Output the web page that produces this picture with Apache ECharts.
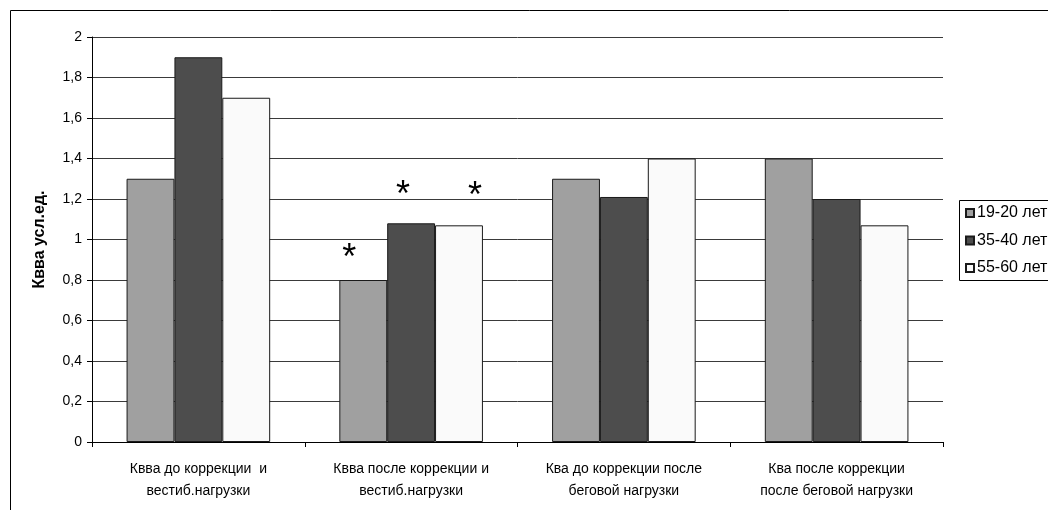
<!DOCTYPE html>
<html>
<head>
<meta charset="utf-8">
<script src="https://cdn.jsdelivr.net/npm/echarts@6/dist/echarts.min.js"></script>
<style>
  html, body { margin: 0; padding: 0; background: #fff; }
  #chart { width: 1048px; height: 510px; }
</style>
</head>
<body>
<div id="chart"></div>
<script>
// chart data
const categories = [
  'Квва до коррекции  и\nвестиб.нагрузки',
  'Квва после коррекции и\nвестиб.нагрузки',
  'Ква до коррекции после\nбеговой нагрузки',
  'Ква после коррекции\nпосле беговой нагрузки'
]
const seriesNames = ['19-20 лет', '35-40 лет', '55-60 лет']
const age19 = [1.3, 0.8, 1.3, 1.4]
const age35 = [1.9, 1.08, 1.21, 1.2]
const age55 = [1.7, 1.07, 1.4, 1.07]
// which bars carry the significance asterisk
const sig19 = [false, true, false, false]
const sig35 = [false, true, false, false]
const sig55 = [false, true, false, false]
const yTicks = [0, 0.2, 0.4, 0.6, 0.8, 1, 1.2, 1.4, 1.6, 1.8, 2]

const colors = ['#a0a0a0', '#4d4d4d', '#fafafa']
const font = 'Arial, "Liberation Sans", sans-serif'

// asterisk label placement per series: [dx, distance above bar]
const starPos = [[-14, 3], [-8, 9], [16, 10]]

const withMarks = (vals, marks, pos) => vals.map((v, i) => marks[i]
  ? { value: v, label: { show: true, position: 'top', distance: pos[1], offset: [pos[0], 0], formatter: '*', fontSize: 36, color: '#000', fontFamily: font } }
  : v)

const chart = echarts.init(document.getElementById('chart'))

const makeSeries = (name, data, color) => ({
  name,
  type: 'bar',
  data,
  barGap: '0%',
  barCategoryGap: '32.5%',
  itemStyle: { color, borderColor: '#1a1a1a', borderWidth: 1 },
  emphasis: { disabled: true }
})

chart.setOption({
  animation: false,
  textStyle: { fontFamily: font },
  // outer chart frame and legend frame, both running off the right edge
  graphic: [{
    type: 'rect',
    shape: { x: 10.5, y: 10.5, width: 1200, height: 700 },
    style: { fill: 'none', stroke: '#000', lineWidth: 1 },
    silent: true
  }, {
    type: 'rect',
    shape: { x: 959.5, y: 200.5, width: 200, height: 80 },
    style: { fill: 'none', stroke: '#000', lineWidth: 1 },
    silent: true
  }],
  grid: { left: 92, right: 105, top: 37, bottom: 68 },
  legend: {
    data: seriesNames,
    orient: 'vertical',
    left: 959,
    top: 200,
    padding: [5, 10, 5, 6],
    itemGap: 11.5,
    itemWidth: 8,
    itemHeight: 8,
    icon: 'rect',
    borderWidth: 0,
    textStyle: { fontSize: 16, color: '#000', fontFamily: font, padding: [0, 0, 0, -2] }
  },
  xAxis: {
    type: 'category',
    data: categories,
    axisLine: { lineStyle: { color: '#000' } },
    axisTick: { show: true, length: 5, lineStyle: { color: '#000' } },
    axisLabel: { interval: 0, color: '#000', fontSize: 14, lineHeight: 22, margin: 16 }
  },
  yAxis: {
    type: 'value',
    min: 0,
    max: 2,
    interval: 0.2,
    name: 'Квва усл.ед.',
    nameLocation: 'middle',
    nameGap: 44,
    nameTextStyle: { fontSize: 16, fontWeight: 'bold', color: '#000' },
    axisLine: { show: true, lineStyle: { color: '#000' } },
    axisTick: { show: true, length: 5, lineStyle: { color: '#000' } },
    axisLabel: {
      color: '#000', fontSize: 14, margin: 10,
      formatter: v => {
        const t = yTicks.find(x => Math.abs(x - v) < 1e-6)
        return t === undefined ? '' : String(+t.toFixed(1)).replace('.', ',')
      }
    },
    splitLine: { show: true, lineStyle: { color: '#3a3a3a' } }
  },
  series: [
    makeSeries(seriesNames[0], withMarks(age19, sig19, starPos[0]), colors[0]),
    makeSeries(seriesNames[1], withMarks(age35, sig35, starPos[1]), colors[1]),
    makeSeries(seriesNames[2], withMarks(age55, sig55, starPos[2]), colors[2])
  ]
})
</script>
</body>
</html>
